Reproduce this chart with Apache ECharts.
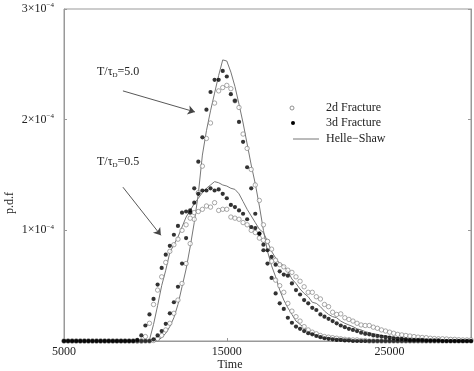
<!DOCTYPE html>
<html>
<head>
<meta charset="utf-8">
<script src="https://cdn.jsdelivr.net/npm/echarts@6/dist/echarts.min.js"></script>
<style>html,body{margin:0;padding:0;background:#fff}#c{width:474px;height:371px}</style>
</head>
<body>
<div id="c"></div>
<script>
// Time samples
var times = [
5000,5250,5500,5750,6000,6250,6500,6750,
7000,7250,7500,7750,8000,8250,8500,8750,
9000,9250,9500,9750,10000,10250,10500,10750,
11000,11250,11500,11750,12000,12250,12500,12750,
13000,13250,13500,13750,14000,14250,14500,14750,
15000,15250,15500,15750,16000,16250,16500,16750,
17000,17250,17500,17750,18000,18250,18500,18750,
19000,19250,19500,19750,20000,20250,20500,20750,
21000,21250,21500,21750,22000,22250,22500,22750,
23000,23250,23500,23750,24000,24250,24500,24750,
25000,25250,25500,25750,26000,26250,26500,26750,
27000,27250,27500,27750,28000,28250,28500,28750,
29000,29250,29500,29750,30000];

// p.d.f values in units of 1e-4
var frac3d_T5 = [
0,0,0,0,0,0,0,0,
0,0,0,0,0,0,0,0,
0,0,0,0,0,0,0.015,0.05,
0.09,0.155,0.25,0.35,0.49,0.70,0.93,1.16,
1.38,1.62,1.84,2.09,2.25,2.36,2.36,2.44,
2.39,2.23,2.17,1.98,1.80,1.57,1.38,1.15,
0.97,0.82,0.70,0.57,0.43,0.34,0.29,0.21,
0.165,0.13,0.11,0.09,0.07,0.06,0.045,0.035,
0.025,0.02,0.015,0.01,0.01,0.005,0.005,0,
0,0,0,0,0,0,0,0,
0,0,0,0,0,0,0,0,
0,0,0,0,0,0,0,0,
0,0,0,0,0];

var frac2d_T5 = [
0,0,0,0,0,0,0,0,
0,0,0,0,0,0,0,0,
0,0,0,0,0,0,0.005,0.02,
0.05,0.10,0.16,0.25,0.37,0.52,0.70,0.88,
1.10,1.34,1.58,1.83,1.97,2.15,2.26,2.29,
2.31,2.28,2.17,2.11,1.87,1.74,1.55,1.41,
1.27,1.05,0.90,0.72,0.55,0.50,0.44,0.34,
0.27,0.22,0.18,0.13,0.10,0.08,0.065,0.05,
0.04,0.035,0.03,0.025,0.02,0.015,0.012,0.01,
0.01,0.005,0.005,0,0,0,0,0,
0,0,0,0,0,0,0,0,
0,0,0,0,0,0,0,0,
0,0,0,0,0];

var frac3d_T05 = [
0,0,0,0,0,0,0,0,
0,0,0,0,0,0,0,0,
0,0,0.01,0.05,0.14,0.24,0.38,0.51,
0.66,0.78,0.86,0.96,1.04,1.16,1.17,1.18,
1.25,1.33,1.36,1.36,1.38,1.36,1.37,1.33,
1.29,1.23,1.21,1.18,1.15,1.10,1.03,1.02,
0.97,0.87,0.82,0.76,0.69,0.63,0.60,0.59,
0.52,0.46,0.42,0.37,0.34,0.30,0.28,0.24,
0.22,0.20,0.18,0.16,0.14,0.125,0.11,0.10,
0.09,0.075,0.065,0.06,0.05,0.045,0.04,0.035,
0.03,0.025,0.02,0.02,0.015,0.01,0.01,0.01,
0.01,0.005,0.005,0.005,0.005,0,0,0,
0,0,0,0,0];

var frac2d_T05 = [
0,0,0,0,0,0,0,0,
0,0,0,0,0,0,0,0,
0,0,0,0,0.04,0.16,0.33,0.46,
0.58,0.71,0.81,0.87,0.92,1.00,1.05,1.11,
1.16,1.17,1.19,1.22,1.21,1.25,1.18,1.19,
1.19,1.12,1.11,1.10,1.07,1.05,1.00,0.98,
0.93,0.91,0.90,0.83,0.73,0.69,0.67,0.64,
0.62,0.58,0.54,0.49,0.44,0.44,0.40,0.38,
0.33,0.31,0.26,0.24,0.245,0.21,0.195,0.18,
0.16,0.145,0.14,0.14,0.125,0.115,0.10,0.09,
0.08,0.07,0.06,0.055,0.05,0.045,0.04,0.035,
0.032,0.03,0.025,0.022,0.02,0.02,0.018,0.015,
0.015,0.012,0.01,0.01,0.01];

var helleShaw_T5 = [
0,0,0,0,0,0,0,0,
0,0,0,0,0,0,0,0,
0,0,0,0,0,0,0,0.005,
0.03,0.07,0.13,0.21,0.33,0.49,0.65,0.85,
1.07,1.33,1.68,1.90,2.08,2.24,2.40,2.54,
2.53,2.43,2.30,2.14,1.97,1.78,1.59,1.42,
1.22,1.00,0.81,0.68,0.58,0.46,0.37,0.30,
0.24,0.18,0.15,0.12,0.09,0.07,0.055,0.045,
0.035,0.03,0.025,0.02,0.015,0.012,0.01,0.008,
0.005,0.004,0.003,0.002,0,0,0,0,
0,0,0,0,0,0,0,0,
0,0,0,0,0,0,0,0,
0,0,0,0,0];

var helleShaw_T05 = [
0,0,0,0,0,0,0,0,
0,0,0,0,0,0,0,0,
0,0,0,0,0,0.01,0.15,0.32,
0.50,0.64,0.80,0.87,0.94,1.03,1.12,1.18,
1.24,1.29,1.34,1.38,1.41,1.44,1.43,1.41,
1.40,1.38,1.37,1.33,1.26,1.19,1.13,1.07,
1.01,0.98,0.90,0.81,0.75,0.70,0.68,0.63,
0.56,0.52,0.47,0.43,0.40,0.35,0.34,0.31,
0.27,0.24,0.22,0.21,0.18,0.16,0.145,0.13,
0.11,0.10,0.085,0.075,0.065,0.06,0.05,0.045,
0.04,0.035,0.03,0.025,0.02,0.018,0.015,0.012,
0.01,0.01,0.01,0.008,0.005,0.004,0.003,0.002,
0,0,0,0,0];

var xTickValues = [5000, 15000, 25000];
var yTickValues = [1, 2, 3];
var legendNames = ['2d Fracture', '3d Fracture', 'Helle\u2212Shaw'];

[frac3d_T5, frac2d_T5, frac3d_T05, frac2d_T05, helleShaw_T5, helleShaw_T05].forEach(function (a, k) {
  if (a.length !== times.length) throw new Error('length mismatch in array ' + k + ': ' + a.length);
});

function pairs(vals) { return times.map(function (t, i) { return [t, vals[i]]; }); }

var FONT = 'Liberation Serif';
var TXT = '#222';
var AX = '#999';

var chart = echarts.init(document.getElementById('c'), null, { renderer: 'canvas' });

function lineSeries(name, vals, arrow) {
  var s = {
    name: name, type: 'line', data: pairs(vals), showSymbol: false, symbol: 'none',
    lineStyle: { color: '#777', width: 1 }, z: 2, animation: false, silent: true
  };
  if (arrow) {
    s.markLine = {
      silent: true, symbol: ['none', 'arrow'], symbolSize: 7, animation: false,
      lineStyle: { color: '#444', width: 0.9, type: 'solid' },
      itemStyle: { color: '#222' },
      label: { show: false },
      data: [arrow]
    };
  }
  return s;
}
function dotSeries(name, vals, filled) {
  return {
    name: name, type: 'scatter', data: pairs(vals), symbol: 'circle',
    symbolSize: filled ? 4.2 : 4.4, z: filled ? 4 : 3, animation: false, silent: true,
    itemStyle: filled ? { color: '#000' } : { color: '#fff', borderColor: '#777', borderWidth: 0.8 }
  };
}

var supRich = {
  a: { fontFamily: FONT, fontSize: 12, color: TXT, lineHeight: 14 },
  s: { fontFamily: FONT, fontSize: 7, color: TXT, verticalAlign: 'top', lineHeight: 14, padding: [0, 0, 7, 0] }
};
var subRich = {
  a: { fontFamily: FONT, fontSize: 12, fill: TXT, lineHeight: 14 },
  b: { fontFamily: FONT, fontSize: 7, fill: TXT, verticalAlign: 'bottom', lineHeight: 14, padding: [6, 0, 0, 0] }
};

var option = {
  backgroundColor: '#fff',
  animation: false,
  grid: { left: 64, right: 3, top: 9, bottom: 30, show: true, borderColor: AX, borderWidth: 1, backgroundColor: 'transparent' },
  xAxis: {
    type: 'value', min: 5000, max: 30000,
    axisLine: { show: true, lineStyle: { color: AX, width: 1 } },
    axisTick: { show: true, inside: true, length: 3, lineStyle: { color: AX }, customValues: xTickValues },
    axisLabel: { customValues: xTickValues, fontFamily: FONT, fontSize: 12, color: TXT, margin: 5,
      formatter: function (v) { return String(v); } },
    splitLine: { show: false }
  },
  yAxis: [{
    type: 'value', min: 0, max: 3, interval: 1,
    axisLine: { show: true, lineStyle: { color: AX, width: 1 } },
    axisTick: { show: true, inside: true, length: 3, lineStyle: { color: AX } },
    axisLabel: {
      fontFamily: FONT, fontSize: 12, color: TXT, margin: 10,
      formatter: function (v) { return yTickValues.indexOf(v) < 0 ? '' : '{a|' + v + '\u00d710}{s|\u22124}'; },
      rich: supRich
    },
    splitLine: { show: false }
  }, {
    type: 'value', min: 0, max: 3, interval: 1, position: 'right',
    axisLine: { show: true, lineStyle: { color: AX, width: 1 } },
    axisTick: { show: true, inside: true, length: 3, lineStyle: { color: AX } },
    axisLabel: { show: false }, splitLine: { show: false }
  }],
  series: [
    lineSeries(legendNames[2], helleShaw_T5, [{ coord: [8620, 2.26] }, { coord: [13040, 2.07] }]),
    lineSeries(legendNames[2], helleShaw_T05, [{ coord: [8620, 1.39] }, { coord: [10950, 0.955] }]),
    dotSeries(legendNames[0], frac2d_T5, false),
    dotSeries(legendNames[0], frac2d_T05, false),
    dotSeries(legendNames[1], frac3d_T5, true),
    dotSeries(legendNames[1], frac3d_T05, true)
  ],
  graphic: [
    { type: 'text', left: 97, top: 66, style: { text: '{a|T/\u03c4}{b|D}{a|=5.0}', rich: subRich } },
    { type: 'text', left: 97, top: 156, style: { text: '{a|T/\u03c4}{b|D}{a|=0.5}', rich: subRich } },
    { type: 'text', x: 10, y: 203, rotation: Math.PI / 2, style: { text: 'p.d.f', font: '12px "Liberation Serif"', fill: TXT, align: 'center', verticalAlign: 'middle' } },
    { type: 'text', x: 230, y: 359, style: { text: 'Time', font: '12px "Liberation Serif"', fill: TXT, align: 'center', verticalAlign: 'top' } },
    { type: 'circle', shape: { cx: 292, cy: 108, r: 2 }, style: { fill: '#fff', stroke: '#777', lineWidth: 0.8 } },
    { type: 'circle', shape: { cx: 293, cy: 123, r: 2 }, style: { fill: '#000' } },
    { type: 'line', shape: { x1: 293, y1: 139, x2: 319, y2: 139 }, style: { stroke: '#777', lineWidth: 1 } },
    { type: 'text', x: 326, y: 108, style: { text: legendNames[0], font: '12px "Liberation Serif"', fill: TXT, verticalAlign: 'middle' } },
    { type: 'text', x: 326, y: 123, style: { text: legendNames[1], font: '12px "Liberation Serif"', fill: TXT, verticalAlign: 'middle' } },
    { type: 'text', x: 326, y: 139, style: { text: legendNames[2], font: '12px "Liberation Serif"', fill: TXT, verticalAlign: 'middle' } }
  ]
};
chart.setOption(option);
</script>
</body>
</html>
